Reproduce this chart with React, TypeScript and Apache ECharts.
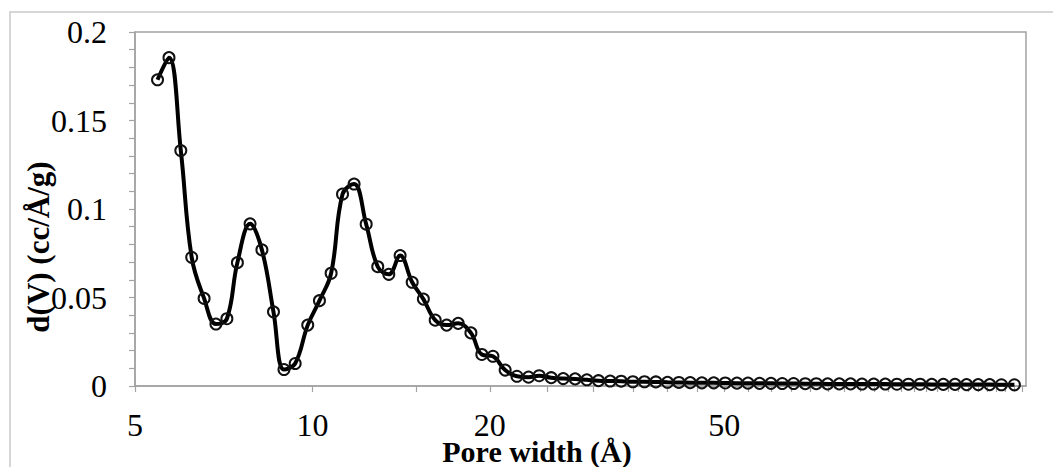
import React, { useEffect, useRef } from "react";
import * as echarts from "echarts";

// Pore widths (Å)
const poreWidth: number[] = [
  5.46, 5.71, 5.98, 6.24, 6.55, 6.86, 7.16, 7.46, 7.84, 8.21,
  8.59, 8.95, 9.35, 9.82, 10.28, 10.76, 11.25, 11.77, 12.34, 12.91,
  13.48, 14.09, 14.77, 15.43, 16.16, 16.9, 17.68, 18.58, 19.39, 20.25,
  21.24, 22.24, 23.27, 24.26, 25.43, 26.65, 27.92, 29.23, 30.59, 32.02,
  33.42, 34.99, 36.61, 38.28, 40.06, 41.88, 43.77, 45.82, 47.99, 50.2,
  52.55, 54.86, 57.4, 60.02, 62.73, 65.56, 68.63, 71.65, 74.89, 78.39,
  81.92, 85.66, 89.67, 93.83, 98.18, 102.7, 107.5, 112.5, 117.7, 123.2,
  128.9, 134.9, 141.1, 147.7, 155.4,
];

// d(V) (cc/Å/g)
const dV: number[] = [
  0.173, 0.1855, 0.133, 0.0727, 0.0495, 0.035, 0.038, 0.0697, 0.0916, 0.0769,
  0.0419, 0.0093, 0.0127, 0.0344, 0.0482, 0.0637, 0.1084, 0.1141, 0.0914, 0.0674,
  0.0631, 0.0737, 0.0586, 0.0491, 0.0372, 0.0344, 0.0354, 0.03, 0.0178, 0.0168,
  0.009, 0.0055, 0.005, 0.0058, 0.0047, 0.0042, 0.004, 0.0035, 0.003, 0.0028,
  0.0027, 0.0024, 0.0024, 0.0023, 0.0021, 0.002, 0.0019, 0.0018, 0.0018, 0.0017,
  0.0016, 0.0016, 0.0015, 0.0015, 0.0014, 0.0014, 0.0013, 0.0013, 0.0012, 0.0012,
  0.0012, 0.0011, 0.0011, 0.0011, 0.001, 0.001, 0.001, 0.0009, 0.0009, 0.0009,
  0.0008, 0.0008, 0.0008, 0.0007, 0.0007,
];

const xTickValues: number[] = [
  5, 10, 15, 20, 25, 30, 35, 40, 45, 50, 55, 60, 65, 70, 75, 80,
  85, 90, 95, 100, 105, 110, 115, 120, 125, 130, 135, 140, 145, 150, 155, 160,
];
const xLabelValues: number[] = [5, 10, 20, 50];
const xMin = 5;
const xMax = 162.6;

const yMin = 0;
const yMax = 0.2;
const yStep = 0.05;

const xTitle = "Pore width (Å)";
const yTitle = "d(V) (cc/Å/g)";

export default function App() {
  const ref = useRef<HTMLDivElement>(null);

  useEffect(() => {
    if (!ref.current) return;
    const chart = echarts.init(ref.current, null, { renderer: "svg" });
    const lg = (v: number) => Math.log10(v);
    const font = "'Liberation Serif', 'Times New Roman', serif";
    const axisGray = "#a3a3a3";

    chart.setOption({
      animation: false,
      backgroundColor: "#ffffff",
      grid: {
        left: 135,
        right: 27,
        top: 32,
        bottom: 81,
        show: true,
        borderColor: axisGray,
        borderWidth: 1.5,
        backgroundColor: "transparent",
      },
      xAxis: {
        type: "value",
        min: lg(xMin),
        max: lg(xMax),
        axisLine: { show: true, onZero: false, lineStyle: { color: axisGray, width: 1.5 } },
        axisTick: {
          show: true,
          inside: false,
          length: 6,
          customValues: xTickValues.map(lg),
          lineStyle: { color: axisGray, width: 1.2 },
        },
        axisLabel: {
          show: true,
          customValues: xLabelValues.map(lg),
          formatter: (v: number) => String(Math.round(Math.pow(10, v))),
          margin: 28,
          fontFamily: font,
          fontSize: 32,
          lineHeight: 22,
          color: "#000",
        },
        splitLine: { show: false },
      },
      yAxis: {
        type: "value",
        min: yMin,
        max: yMax,
        interval: yStep,
        axisLine: { show: true, lineStyle: { color: axisGray, width: 1.5 } },
        axisTick: { show: true, inside: false, length: 6, lineStyle: { color: axisGray, width: 1.2 } },
        minorTick: { show: true, splitNumber: 5, length: 6, lineStyle: { color: axisGray, width: 1.2 } },
        axisLabel: {
          margin: 28,
          fontFamily: font,
          fontSize: 32,
          lineHeight: 26,
          color: "#000",
          formatter: (v: number) => (v === 0 ? "0" : String(parseFloat(v.toFixed(2)))),
        },
        splitLine: { show: false },
      },
      graphic: [
        {
          type: "rect",
          silent: true,
          shape: { x: 10, y: 12, width: 1100, height: 500 },
          style: { fill: "none", stroke: "#d6d6d6", lineWidth: 2 },
          z: -10,
        },
        {
          type: "text",
          x: 537,
          y: 451,
          style: {
            text: xTitle,
            fontFamily: font,
            fontWeight: "bold",
            fontSize: 30,
            lineHeight: 22,
            fill: "#000",
            align: "center",
            verticalAlign: "middle",
          },
        },
        {
          type: "text",
          x: 38,
          y: 247,
          rotation: Math.PI / 2,
          style: {
            text: yTitle,
            fontFamily: font,
            fontWeight: "bold",
            fontSize: 31,
            fill: "#000",
            align: "center",
            verticalAlign: "middle",
          },
        },
      ],
      series: [
        {
          type: "line",
          data: poreWidth.map((w, i) => [lg(w), dV[i]]),
          smooth: 0.4,
          symbol: "circle",
          symbolSize: 11,
          showAllSymbol: true,
          lineStyle: { color: "#000", width: 4 },
          itemStyle: { color: "rgba(0,0,0,0)", borderColor: "#111", borderWidth: 2 },
          z: 3,
        },
      ],
    });

    return () => chart.dispose();
  }, []);

  return (
    <div
      ref={ref}
      style={{ position: "fixed", left: 0, top: 0, width: 1053, height: 467, background: "#fff" }}
    />
  );
}
